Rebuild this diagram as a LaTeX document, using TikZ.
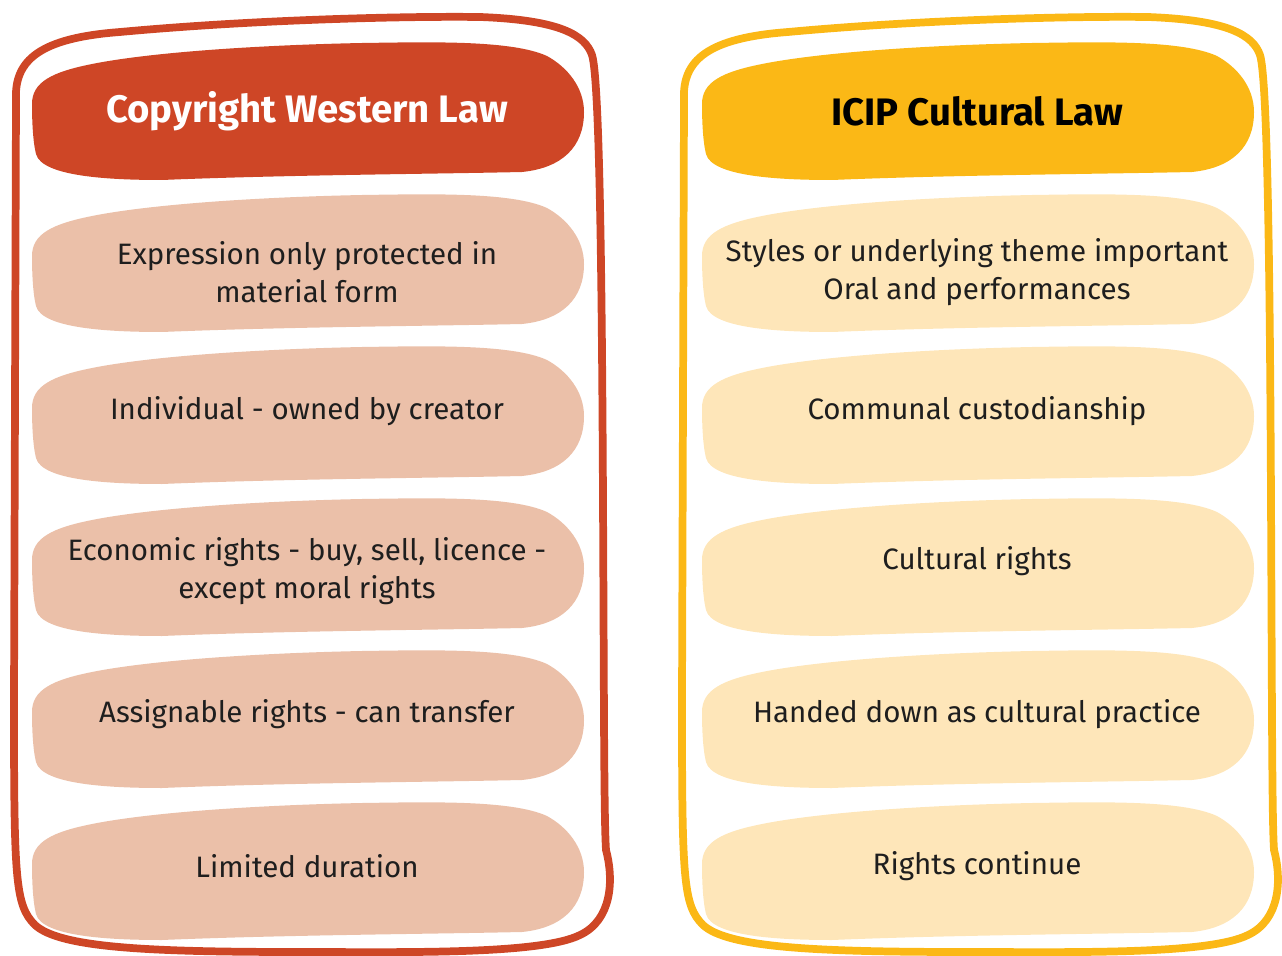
\documentclass[tikz,border=0pt]{standalone}
\usepackage{fontspec}
\setmainfont{Fira Sans}

\definecolor{westred}{HTML}{CE4626}
\definecolor{westpale}{HTML}{EBC0A9}
\definecolor{icipgold}{HTML}{FBB816}
\definecolor{icippale}{HTML}{FEE6B9}
\definecolor{inktext}{HTML}{1E1E1E}

% hand drawn blob, #1/#2 = top left corner, #3 = fill colour
\newcommand{\lawblob}[3]{%
	\fill[#3,shift={(#1,#2)}] (0,62) .. controls (0,80) and (1,100) .. (4,112)
		.. controls (10,135) and (80,138) .. (130,138)
		.. controls (250,133) and (400,132) .. (490,130)
		.. controls (530,126) and (552,105) .. (552,70)
		.. controls (552,45) and (535,25) .. (515,14)
		.. controls (480,-2) and (400,0) .. (330,1)
		.. controls (230,3) and (120,10) .. (60,22)
		.. controls (20,30) and (0,40) .. (0,62) -- cycle;}

% outer frame around one column, #1 = x offset, #2 = colour
\newcommand{\lawframe}[2]{%
	\draw[#2,line width=4.4pt,line join=round,shift={(#1,0)}]
		(16,100) .. controls (14,60) and (40,38) .. (120,32)
		.. controls (250,20) and (400,16) .. (480,17)
		.. controls (560,20) and (585,35) .. (592,55)
		.. controls (600,80) and (602,300) .. (603,500)
		.. controls (604,700) and (604,820) .. (606,850)
		.. controls (614,880) and (612,920) .. (580,935)
		.. controls (540,955) and (400,952) .. (300,952)
		.. controls (150,952) and (60,948) .. (35,925)
		.. controls (15,905) and (14,880) .. (14,700)
		-- cycle;}

\begin{document}
\begin{tikzpicture}[x=0.02cm,y=-0.02cm,
	headtext/.style={font=\bfseries\fontsize{21.8}{26}\selectfont},
	bodytext/.style={align=center,text=inktext,font=\fontsize{16.8}{21.5}\selectfont}]
	
	\useasboundingbox (0,0) rectangle (1282,956);
	
	% frames
	\lawframe{0}{westred}
	\lawframe{668}{icipgold}
	
	% left column
	\lawblob{32}{42}{westred}
	\lawblob{32}{194}{westpale}
	\lawblob{32}{346}{westpale}
	\lawblob{32}{498}{westpale}
	\lawblob{32}{650}{westpale}
	\lawblob{32}{802}{westpale}
	
	\node[headtext,white] (west) at (307,111) {Copyright Western Law};
	\node[bodytext] (west1) at (307,272) {Expression only protected in\\material form};
	\node[bodytext] (west2) at (307,411) {Individual - owned by creator};
	\node[bodytext] (west3) at (307,571) {Economic rights - buy, sell, licence -\\except moral rights};
	\node[bodytext] (west4) at (307,714) {Assignable rights - can transfer};
	\node[bodytext] (west5) at (307,866) {Limited duration};
	
	% right column
	\lawblob{702}{42}{icipgold}
	\lawblob{702}{194}{icippale}
	\lawblob{702}{346}{icippale}
	\lawblob{702}{498}{icippale}
	\lawblob{702}{650}{icippale}
	\lawblob{702}{802}{icippale}
	
	\node[headtext,black] (icip) at (977,111) {ICIP Cultural Law};
	\node[bodytext] (icip1) at (977,272) {Styles or underlying theme important\\Oral and performances};
	\node[bodytext] (icip2) at (977,411) {Communal custodianship};
	\node[bodytext] (icip3) at (977,561) {Cultural rights};
	\node[bodytext] (icip4) at (977,714) {Handed down as cultural practice};
	\node[bodytext] (icip5) at (977,866) {Rights continue};
\end{tikzpicture}
\end{document}
